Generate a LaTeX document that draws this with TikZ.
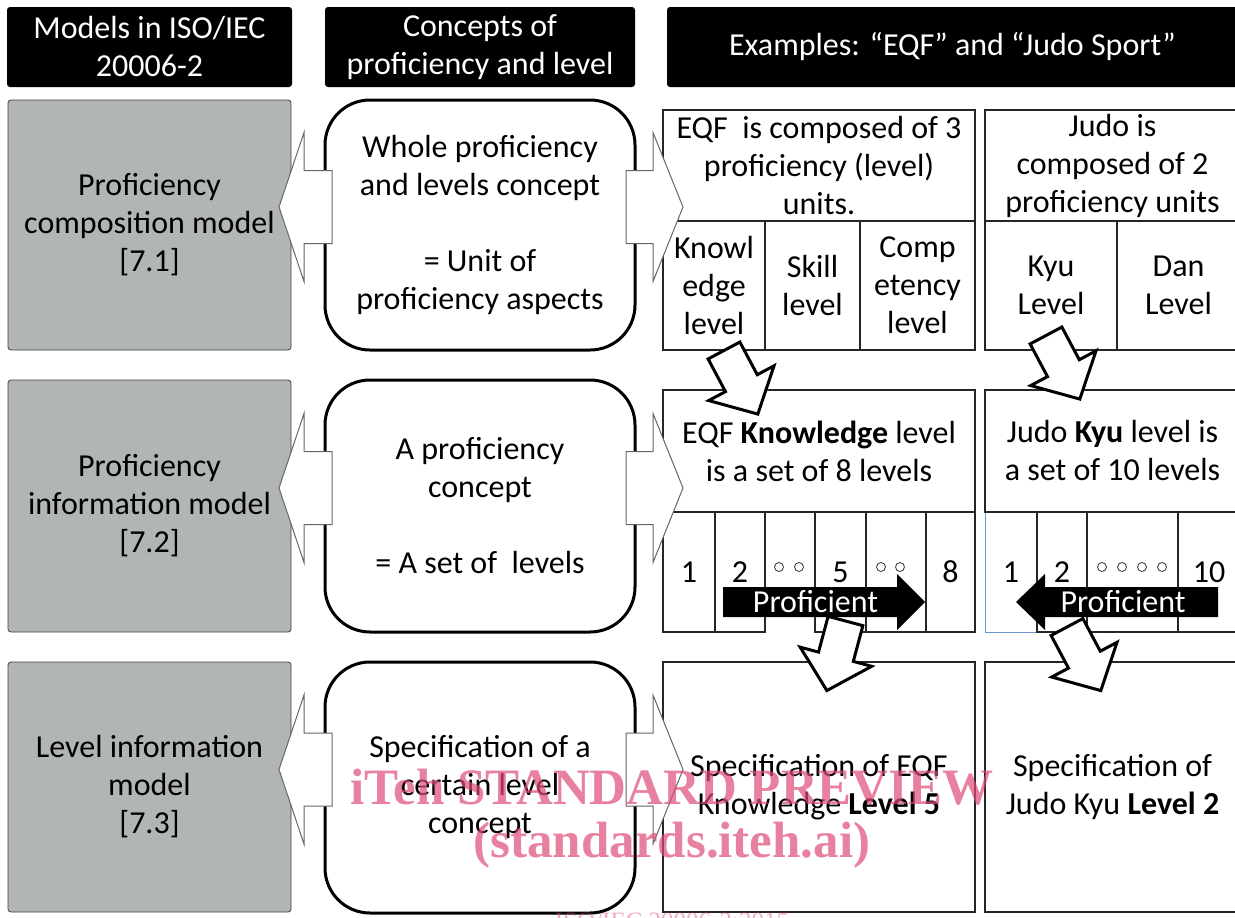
\documentclass[tikz,border=0pt]{standalone}
\usepackage{fontspec}
\setmainfont{Carlito}
\newfontfamily\wmfont{Liberation Serif}
\usetikzlibrary{calc}
\definecolor{modelgray}{RGB}{178,181,182}
\definecolor{wmpink}{RGB}{222,76,119}
\definecolor{cellblue}{RGB}{110,150,200}

\tikzset{
  sz/.style 2 args={minimum width=#1pt, minimum height=#2pt},
  hdr/.style={fill=black, text=white, rounded corners=3pt},
  model/.style={fill=modelgray, draw=black!75, line width=0.8pt, rounded corners=3pt},
  concept/.style={fill=white, draw=black, line width=3pt, rounded corners=45pt},
  cell/.style={draw=black!85, line width=1.3pt},
  sideline/.style={fill=white, draw=black!60, line width=1pt, line join=miter},
  tiltline/.style={fill=white, draw=black, line width=3pt, line join=miter},
  ring/.style={draw=black!80, line width=0.8pt},
  wm/.style={font=\wmfont\bfseries\fontsize{51}{51}\selectfont, text=wmpink, text opacity=0.7},
  % block arrow from a concept box towards its model (left)
  pics/leftblock/.style={code={
    \draw[sideline] (7,-36.5) -- (-21,-36.5) -- (-21,-74.5) -- (-46,0)
      -- (-21,74.5) -- (-21,36.5) -- (7,36.5) -- cycle;}},
  % block arrow from a concept box towards its examples (right)
  pics/rightblock/.style={code={
    \draw[sideline] (-9,-36.5) -- (18,-36.5) -- (18,-74.5) -- (48,0)
      -- (18,74.5) -- (18,36.5) -- (-9,36.5) -- cycle;}},
  % outlined arrow between example boxes, pointing along local +x
  pics/tiltblock/.style={code={
    \draw[tiltline] (0,-18) -- (37,-18) -- (37,-37) -- (72,0)
      -- (37,37) -- (37,18) -- (0,18) -- cycle;}},
  % black "Proficient" direction arrows
  pics/profright/.style={code={
    \fill (-92.5,-15) -- (81.5,-15) -- (81.5,-28) -- (109.5,0)
      -- (81.5,28) -- (81.5,15) -- (-92.5,15) -- cycle;}},
  pics/profleft/.style={code={
    \fill (95,-15) -- (-78,-15) -- (-78,-28) -- (-107,0)
      -- (-78,28) -- (-78,15) -- (95,15) -- cycle;}},
}

\begin{document}
\begin{tikzpicture}[x=1pt, y=-1pt,
  every node/.style={inner sep=0pt, outer sep=0pt, align=center,
    font=\fontsize{32}{38}\selectfont}]

\useasboundingbox (0,0) rectangle (1235,918);
\fill[white] (0,0) rectangle (1235,918);
\clip (0,0) rectangle (1235,918);

% column headers
\node[hdr, sz={285}{80}] (h1) at (149.5,47) {Models in ISO/IEC\\20006-2};
\node[hdr, sz={310}{80}] (h2) at (480,47) {Concepts of\\proficiency and level};
\node[hdr, sz={571}{80}] (h3) at (952.5,47) {Examples: “EQF” and “Judo Sport”};

% models
\node[model, sz={283}{250}] (m1) at (149.5,225) {Proficiency\\composition model\\{[7.1]}};
\node[model, sz={283}{252}] (m2) at (149.5,506) {Proficiency\\information model\\{[7.2]}};
\node[model, sz={283}{250}] (m3) at (149.5,787) {Level information\\model\\{[7.3]}};

% concepts
\node[concept, sz={310}{250}] (c1) at (480,225)
  {Whole proficiency\\and levels concept\\[38pt]= Unit of\\proficiency aspects};
\node[concept, sz={310}{252}] (c2) at (480,506)
  {A proficiency\\concept\\[38pt]= A set of\ \ levels};
\node[concept, sz={310}{251}] (c3) at (480,787.5)
  {Specification of a\\certain level\\concept};

% examples, composition row
\node[cell, sz={312}{111}] (eqfA) at (819,165.5) {EQF\ \ is composed of 3\\proficiency (level)\\units.};
\node[cell, sz={102}{129}] (kn) at (714,285.5) {Knowl\\edge\\level};
\node[cell, sz={95}{129}] (sk) at (812.5,285.5) {Skill\\level};
\node[cell, sz={115}{129}] (co) at (917.5,285.5) {Comp\\etency\\level};
\node[cell, sz={255}{111}] (judoA) at (1112.5,165.5) {Judo is\\composed of 2\\proficiency units};
\node[cell, sz={132}{129}] (kyu) at (1051,285.5) {Kyu\\Level};
\node[cell, sz={123}{129}] (dan) at (1178.5,285.5) {Dan\\Level};

% examples, information row
\node[cell, sz={312}{122}] (eqfB) at (819,451) {EQF \textbf{Knowledge} level\\is a set of 8 levels};
\node[cell, sz={52}{120}] (e1) at (689,572) {1};
\node[cell, sz={50}{120}] (e2) at (740,572) {2};
\node[sz={50}{120}] (e3) at (790,572) {};
\draw[cell] (e3.south west) -- (e3.north west) -- (e3.north east) -- (e3.south east);
\node[cell, sz={51}{120}] (e5) at (840.5,572) {5};
\node[cell, sz={60}{120}] (e6) at (896,572) {};
\node[cell, sz={49}{120}] (e8) at (950.5,572) {8};

\node[draw=cellblue, line width=1pt, sz={52}{120}] (j1) at (1011,572) {1};
\node[cell, sz={255}{122}] (judoB) at (1112.5,451) {Judo \textbf{Kyu} level is\\a set of 10 levels};
\node[cell, sz={50}{120}] (j2) at (1062,572) {2};
\node[cell, sz={91}{120}] (j3) at (1132.5,572) {};
\node[cell, sz={62}{120}] (j10) at (1209,572) {10};

\foreach \dx in {-11,9} \draw[ring] ($(e3.center)+(\dx,-5)$) circle[radius=4.5pt];
\foreach \dx in {-15,4} \draw[ring] ($(e6.center)+(\dx,-5)$) circle[radius=4.5pt];
\foreach \dx in {-30.5,-10.5,9.5,29.5} \draw[ring] ($(j3.center)+(\dx,-5)$) circle[radius=4.5pt];

% examples, level row
\node[cell, sz={312}{250}] (eqfC) at (819,787) {Specification of EQF\\Knowledge \textbf{Level 5}};
\node[cell, sz={255}{250}] (judoC) at (1112.5,787) {Specification of\\Judo Kyu \textbf{Level 2}};

% concept -> model and concept -> example arrows
\foreach \c/\m in {c1/m1, c2/m2, c3/m3} {
  \pic at ($(\c.west)+(0,-18)$) {leftblock};
  \pic at ($(\c.east)+(0,-18)$) {rightblock};
}

% proficiency direction
\pic at (815.5,602) {profright};
\node[text=white] (profA) at (815.5,602) {Proficient};
\pic at (1123,602) {profleft};
\node[text=white] (profB) at (1123,602) {Proficient};

% arrows between example rows
\pic[rotate=-62] at ($(kn.south)+(10,0.5)$) {tiltblock};
\pic[rotate=-62] at ($(kyu.south)+(-5,-14.5)$) {tiltblock};
\pic[rotate=-105] at ($(e5.south)+(5,-11)$) {tiltblock};
\pic[rotate=-62] at ($(j2.south)+(5,-5)$) {tiltblock};

% preview stamp
\node[wm, anchor=base] (wm1) at (672,804) {iTeh STANDARD PREVIEW};
\node[wm, anchor=base] (wm2) at (672,857) {(standards.iteh.ai)};
\node[font=\wmfont\fontsize{25}{25}\selectfont, text=wmpink, text opacity=0.45, anchor=base]
  (wm3) at (672,929) {ISO/IEC 20006-2:2015};
\end{tikzpicture}
\end{document}
